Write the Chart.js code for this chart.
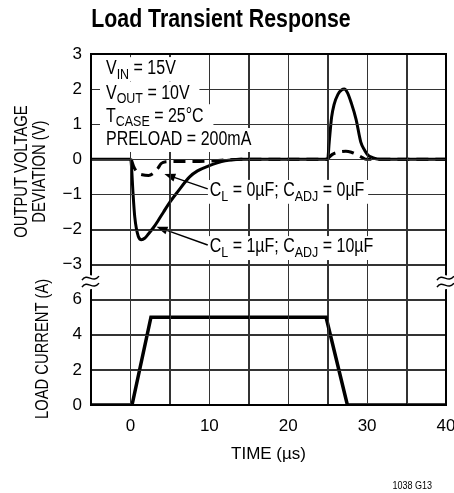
<!DOCTYPE html>
<html>
<head>
<meta charset="utf-8">
<title>Load Transient Response</title>
<script src="https://cdn.jsdelivr.net/npm/chart.js@4.4.0/dist/chart.umd.min.js"></script>
<style>
  html, body { margin: 0; padding: 0; background: #fff; }
  #wrap { width: 454px; height: 493px; }
</style>
</head>
<body>
<div id="wrap"><canvas id="myChart" width="454" height="493"></canvas></div>
<script>
(function(){
  'use strict';

  const FONT = "'Liberation Sans', Arial, sans-serif";
  const NARROW = 0.82; // squeeze Liberation Sans to a condensed look

  // C_L = 1uF, C_ADJ = 10uF (solid)
  const timeSolid = [-5, 0, 0.1, 0.33, 0.55, 1.0, 1.4, 1.8, 2.3, 2.9, 3.5, 4.2, 5.0, 6.0, 7.5, 8.5, 10, 11, 12, 13, 14, 20,
                     25, 25.2, 25.5, 25.8, 26.3, 26.8, 27.1, 27.5, 28.0, 28.6, 29.2, 29.7, 30.1, 30.7, 31.3, 32, 40];
  const voltSolid = [0, 0, -0.1, -0.98, -1.65, -2.2, -2.29, -2.25, -2.12, -1.95, -1.75, -1.5, -1.22, -0.92, -0.5, -0.33, -0.18, -0.1, -0.04, -0.01, 0, 0,
                     0, 0.5, 1.2, 1.55, 1.85, 1.98, 2.0, 1.9, 1.6, 1.14, 0.49, 0.25, 0.12, 0.05, 0.01, 0, 0];

  // C_L = 0uF, C_ADJ = 0uF (dashed)
  const timeDash = [0.1, 0.4, 0.9, 1.5, 2.3, 3.0, 3.5, 3.9, 4.5, 6, 8, 10, 12, 14, 24.9,
                    25, 25.6, 26.3, 27.3, 28.0, 28.8, 29.4, 29.9, 32, 40];
  const voltDash = [0, -0.2, -0.38, -0.44, -0.46, -0.38, -0.25, -0.12, -0.07, -0.06, -0.06, -0.05, -0.02, 0, 0,
                    0.02, 0.14, 0.2, 0.23, 0.2, 0.12, 0.05, 0, 0, 0];

  // load current step
  const timeLoad = [-5, 0.2, 2.6, 24.8, 27.5, 40];
  const loadCurrent = [0, 0, 5, 5, 0, 0];

  const voltTicks = [3, 2, 1, 0, -1, -2, -3];
  const currentTicks = [6, 4, 2, 0];
  const timeTicks = [0, 10, 20, 30, 40];

  // one grid of 10 rows: volts on top (6 rows), a break row, amps below (3 rows)
  function voltRow(v){ return v + 7; }
  function ampRow(a){ return a / 2; }

  function minus(n){ return n < 0 ? '\u2212' + Math.abs(n) : String(n); }

  function pts(xs, ys, f){
    return xs.map((x, i) => ({x: x, y: f(ys[i])}));
  }

  const notes = [
    [['V'], ['IN', 1], [' = 15V']],
    [['V'], ['OUT', 1], [' = 10V']],
    [['T'], ['CASE', 1], [' = 25\u00B0C']],
    [['PRELOAD = 200mA']]
  ];
  const noteVolts = [2.57, 1.88, 1.23, 0.55];

  const curveLabels = [
    {parts: [['C'], ['L', 1], [' = 0\u00B5F; C'], ['ADJ', 1], [' = 0\u00B5F']], t: 10.05, v: -0.9, tip: [4.3, -0.42]},
    {parts: [['C'], ['L', 1], [' = 1\u00B5F; C'], ['ADJ', 1], [' = 10\u00B5F']], t: 10.05, v: -2.5, tip: [3.3, -1.92]}
  ];

  function subSize(size){ return size * 0.78; }

  function measureParts(ctx, parts, size){
    let w = 0;
    parts.forEach(p => {
      ctx.font = (p[1] ? subSize(size) : size) + 'px ' + FONT;
      w += ctx.measureText(p[0]).width * NARROW;
    });
    return w;
  }

  // condensed text: draw with a horizontal squeeze
  function narrowText(ctx, text, x, y, font, align){
    ctx.save();
    ctx.font = font;
    ctx.textAlign = align || 'left';
    ctx.textBaseline = 'middle';
    ctx.translate(x, y);
    ctx.scale(NARROW, 1);
    ctx.fillText(text, 0, 0);
    ctx.restore();
  }

  function drawParts(ctx, parts, x, y, size){
    parts.forEach(p => {
      const s = p[1] ? subSize(size) : size;
      const font = s + 'px ' + FONT;
      narrowText(ctx, p[0], x, p[1] ? y + size * 0.3 : y, font);
      ctx.font = font;
      x += ctx.measureText(p[0]).width * NARROW;
    });
  }

  function arrow(ctx, x1, y1, x2, y2){
    const a = Math.atan2(y2 - y1, x2 - x1);
    const len = 11, wid = 4;
    ctx.beginPath();
    ctx.moveTo(x1, y1);
    ctx.lineTo(x2 - Math.cos(a) * len * 0.8, y2 - Math.sin(a) * len * 0.8);
    ctx.lineWidth = 1.5;
    ctx.stroke();
    ctx.beginPath();
    ctx.moveTo(x2, y2);
    ctx.lineTo(x2 - Math.cos(a) * len - Math.sin(a) * wid, y2 - Math.sin(a) * len + Math.cos(a) * wid);
    ctx.lineTo(x2 - Math.cos(a) * len + Math.sin(a) * wid, y2 - Math.sin(a) * len - Math.cos(a) * wid);
    ctx.closePath();
    ctx.fill();
  }

  function breakWaves(ctx, x, y){
    ctx.strokeStyle = '#000';
    ctx.lineWidth = 1.5;
    [-4, 3].forEach(dy => {
      ctx.beginPath();
      ctx.moveTo(x - 9, y + dy + 2);
      ctx.bezierCurveTo(x - 4, y + dy - 6, x + 2, y + dy + 6, x + 8, y + dy - 2);
      ctx.stroke();
    });
  }

  // pieces of [lo, hi] left after removing the cut intervals
  function segments(lo, hi, cuts){
    let segs = [[lo, hi]];
    cuts.forEach(c => {
      const next = [];
      segs.forEach(s => {
        if (c[1] <= s[0] || c[0] >= s[1]) { next.push(s); return; }
        if (c[0] > s[0]) next.push([s[0], c[0]]);
        if (c[1] < s[1]) next.push([c[1], s[1]]);
      });
      segs = next;
    });
    return segs;
  }

  // grid lines at the scales' ticks, kept out of the text boxes
  function drawGrid(chart, boxes){
    const {ctx, chartArea: a} = chart;
    const xs = chart.scales.x, ys = chart.scales.y;
    const vline = (px) => segments(a.top, a.bottom,
      boxes.filter(b => px >= b.x0 && px <= b.x1).map(b => [b.y0, b.y1]))
      .forEach(s => { ctx.moveTo(px, s[0]); ctx.lineTo(px, s[1]); });
    const hline = (py) => segments(a.left, a.right,
      boxes.filter(b => py >= b.y0 && py <= b.y1).map(b => [b.x0, b.x1]))
      .forEach(s => { ctx.moveTo(s[0], py); ctx.lineTo(s[1], py); });
    ctx.save();
    ctx.strokeStyle = '#333';
    ctx.lineWidth = 1;
    ctx.beginPath();
    xs.ticks.forEach(t => vline(Math.round(xs.getPixelForValue(t.value)) + 0.5));
    ys.ticks.forEach(t => hline(Math.round(ys.getPixelForValue(t.value)) + 0.5));
    ctx.stroke();
    ctx.strokeStyle = '#000';
    ctx.lineWidth = 2;
    ctx.beginPath();
    vline(a.left);
    vline(a.right);
    ctx.moveTo(a.left - 1, a.top); ctx.lineTo(a.right + 1, a.top);
    ctx.moveTo(a.left - 1, a.bottom); ctx.lineTo(a.right + 1, a.bottom);
    ctx.stroke();
    ctx.restore();
  }

  const decor = {
    id: 'decor',
    afterDraw(chart){
      const {ctx, chartArea: a} = chart;
      const xs = chart.scales.x, ys = chart.scales.y;
      const boxes = [];
      ctx.save();

      // title
      ctx.fillStyle = '#000';
      narrowText(ctx, 'Load Transient Response', 221, 20, 'bold 26px ' + FONT, 'center');

      // conditions block, on white so the grid stops at the text
      const size = 19.5;
      notes.forEach((parts, i) => {
        const x = xs.getPixelForValue(-3.1);
        const y = ys.getPixelForValue(voltRow(noteVolts[i]));
        const w = measureParts(ctx, parts, size);
        const b = {x0: x - 6, y0: y - 12, x1: x + w + 10, y1: y + 12};
        boxes.push(b);
        ctx.fillStyle = '#fff';
        ctx.fillRect(b.x0, b.y0, b.x1 - b.x0, b.y1 - b.y0);
        ctx.fillStyle = '#000';
        drawParts(ctx, parts, x, y, size);
      });

      // curve labels with arrows
      curveLabels.forEach(l => {
        const x = xs.getPixelForValue(l.t);
        const y = ys.getPixelForValue(voltRow(l.v));
        const w = measureParts(ctx, l.parts, size);
        const b = {x0: x - 2, y0: y - 11, x1: x + w + 4, y1: y + 13};
        boxes.push(b);
        ctx.fillStyle = '#fff';
        ctx.fillRect(b.x0, b.y0, b.x1 - b.x0, b.y1 - b.y0);
        ctx.fillStyle = '#000';
        ctx.strokeStyle = '#000';
        drawParts(ctx, l.parts, x, y, size);
        arrow(ctx, x - 2, y - 2, xs.getPixelForValue(l.tip[0]), ys.getPixelForValue(voltRow(l.tip[1])));
      });

      // axis break marks
      const yb = ys.getPixelForValue(3.5);
      [a.left, a.right].forEach(x => {
        const b = {x0: x - 4, y0: yb - 7, x1: x + 4, y1: yb + 7};
        boxes.push(b);
        ctx.fillStyle = '#fff';
        ctx.fillRect(b.x0, b.y0, b.x1 - b.x0, b.y1 - b.y0);
      });

      drawGrid(chart, boxes);
      breakWaves(ctx, a.left, yb);
      breakWaves(ctx, a.right, yb);

      // y axis titles
      ctx.fillStyle = '#000';
      const yv = ys.getPixelForValue(voltRow(-0.35));
      const ya = ys.getPixelForValue(ampRow(3.2));
      [['OUTPUT VOLTAGE', 22, yv], ['DEVIATION (V)', 40, yv], ['LOAD CURRENT (A)', 43, ya]].forEach(t => {
        ctx.save();
        ctx.translate(t[1], t[2]);
        ctx.rotate(-Math.PI / 2);
        narrowText(ctx, t[0], 0, 0, '18px ' + FONT, 'center');
        ctx.restore();
      });

      narrowText(ctx, '1038 G13', 432, 486, '11px ' + FONT, 'right');
      ctx.restore();
    }
  };

  const ctx = document.getElementById('myChart').getContext('2d');
  const myChart = new Chart(ctx, {
    type: 'line',
    data: {
      datasets: [
        {
          label: 'C_L = 1uF; C_ADJ = 10uF',
          data: pts(timeSolid, voltSolid, voltRow),
          borderColor: '#000',
          borderWidth: 3,
          cubicInterpolationMode: 'monotone',
          pointRadius: 0
        },
        {
          label: 'C_L = 0uF; C_ADJ = 0uF',
          data: pts(timeDash, voltDash, voltRow),
          borderColor: '#000',
          borderWidth: 3,
          borderDash: [12, 7],
          cubicInterpolationMode: 'monotone',
          pointRadius: 0
        },
        {
          label: 'Load current',
          data: pts(timeLoad, loadCurrent, ampRow),
          borderColor: '#000',
          borderWidth: 3.5,
          pointRadius: 0
        }
      ]
    },
    options: {
      responsive: false,
      animation: false,
      layout: { padding: { left: 0, right: 8, top: 54, bottom: 0 } },
      scales: {
        x: {
          type: 'linear',
          min: -5,
          max: 40,
          afterFit: s => { s.height = 88; s.paddingLeft = 0; s.paddingRight = 0; },
          grid: { color: '#333', lineWidth: 1, tickLength: 0 },
          ticks: {
            stepSize: 5,
            autoSkip: false,
            maxRotation: 0,
            padding: 11,
            color: '#000',
            font: { family: FONT, size: 17 },
            callback: v => timeTicks.includes(v) ? String(v) : ''
          },
          title: {
            display: true,
            text: 'TIME (\u00B5s)',
            color: '#000',
            font: { family: FONT, size: 17 },
            padding: { top: 6, bottom: 28 }
          }
        },
        y: {
          type: 'linear',
          min: 0,
          max: 10,
          afterFit: s => { s.width = 91; },
          grid: { color: '#333', lineWidth: 1, tickLength: 0 },
          ticks: {
            stepSize: 1,
            autoSkip: false,
            padding: 9,
            color: '#000',
            font: { family: FONT, size: 17 },
            callback: function(u){
              if (u >= 4) {
                const v = u - 7;
                return voltTicks.includes(v) ? minus(v) : '';
              }
              if (u <= 3) {
                const i = u * 2;
                return currentTicks.includes(i) ? minus(i) : '';
              }
              return '';
            }
          }
        }
      },
      plugins: {
        legend: { display: false },
        tooltip: { enabled: false }
      }
    },
    plugins: [decor]
  });
})();
</script>
</body>
</html>
